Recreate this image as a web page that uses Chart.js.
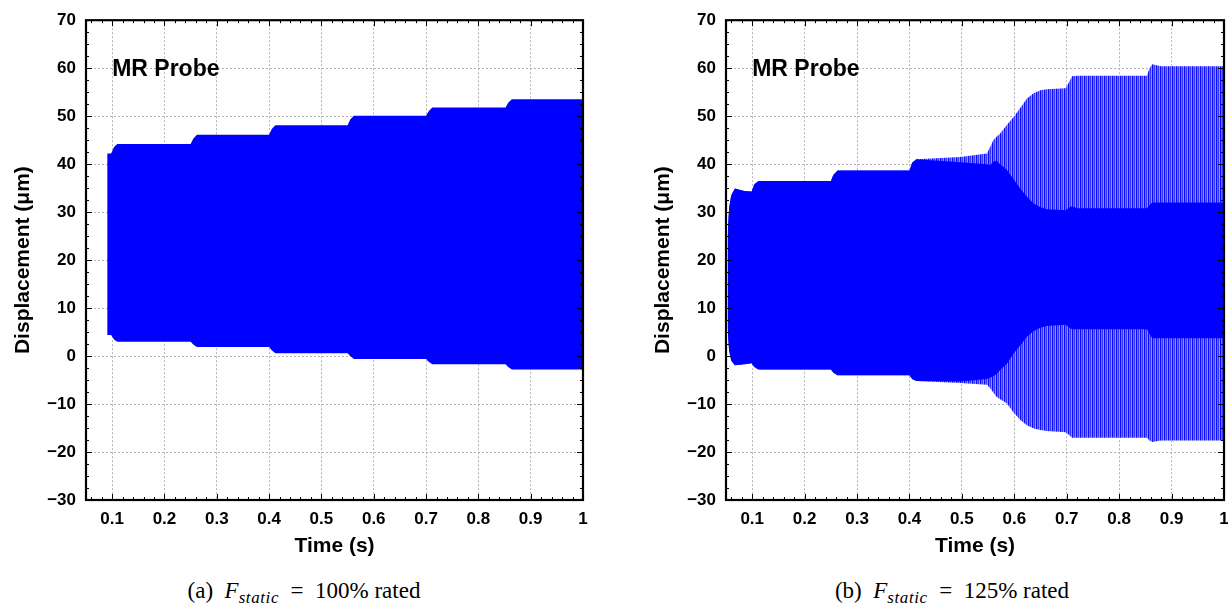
<!DOCTYPE html>
<html>
<head>
<meta charset="utf-8">
<script src="https://cdn.jsdelivr.net/npm/chart.js@4.4.1/dist/chart.umd.min.js"></script>
<style>
  html, body { margin: 0; padding: 0; background: #fff; }
  body { width: 1228px; height: 604px; position: relative; overflow: hidden; }
  canvas { position: absolute; top: 0; }
  .caption {
    position: absolute; top: 579px; width: 400px; text-align: center; white-space: nowrap;
    font-family: "Liberation Serif", serif; font-size: 23px; line-height: 24px; color: #000;
  }
  .caption sub { font-size: 17px; line-height: 0; vertical-align: -5px; letter-spacing: 0.6px; }
</style>
</head>
<body>
<canvas id="chartA" width="614" height="570" style="left:0"></canvas>
<canvas id="chartB" width="604" height="570" style="left:640px"></canvas>
<div class="caption" style="left:104px">(a)&nbsp; <i>F</i><sub><i>static</i></sub>&ensp;=&ensp;100% rated</div>
<div class="caption" style="left:752px">(b)&nbsp; <i>F</i><sub><i>static</i></sub>&ensp;=&ensp;125% rated</div>
<script>
// axis ticks
const xTickValues = [0.1, 0.2, 0.3, 0.4, 0.5, 0.6, 0.7, 0.8, 0.9, 1];
const xTickLabels = ["0.1", "0.2", "0.3", "0.4", "0.5", "0.6", "0.7", "0.8", "0.9", "1"];
const yTickValues = [-30, -20, -10, 0, 10, 20, 30, 40, 50, 60, 70];
const yTickLabels = ["−30", "−20", "−10", "0", "10", "20", "30", "40", "50", "60", "70"];

// (a) 100% rated: envelope of the probe signal
const timeA  = [0.0905, 0.098, 0.104, 0.110, 0.250, 0.255, 0.262, 0.400, 0.405, 0.412,
                0.550, 0.555, 0.562, 0.700, 0.705, 0.712, 0.852, 0.857, 0.864, 1.000];
const upperA = [42.2, 42.2, 43.6, 44.2, 44.2, 45.3, 46.1, 46.1, 47.3, 48.1,
                48.1, 49.3, 50.1, 50.1, 51.0, 51.8, 51.8, 52.8, 53.5, 53.5];
const lowerA = [4.4, 4.4, 3.4, 3.0, 3.0, 2.4, 1.9, 1.9, 1.2, 0.6,
                0.6, 0.0, -0.6, -0.6, -1.2, -1.7, -1.7, -2.3, -2.8, -2.8];

// (b) 125% rated: dense core band and outer swing band
const timeB       = [0.053, 0.056, 0.060, 0.067, 0.085, 0.099, 0.104, 0.112, 0.250, 0.255,
                     0.263, 0.400, 0.405, 0.413, 0.497, 0.548, 0.554, 0.560, 0.566, 0.573,
                     0.586, 0.599, 0.612, 0.624, 0.637, 0.650, 0.662, 0.698, 0.704, 0.710,
                     0.720, 0.853, 0.858, 0.863, 0.880, 1.000];
const coreUpperB  = [25.0, 31.0, 33.5, 34.9, 34.4, 34.3, 35.8, 36.5, 36.5, 37.8,
                     38.7, 38.7, 40.3, 41.0, 40.4, 40.0, 39.8, 40.5, 40.7, 40.0,
                     38.8, 36.8, 34.8, 33.2, 31.8, 31.0, 30.6, 30.4, 30.9, 31.2,
                     30.8, 30.8, 31.5, 32.0, 32.0, 32.0];
const coreLowerB  = [6.0, 1.0, -1.0, -1.9, -1.7, -1.5, -2.3, -2.8, -2.8, -3.5,
                     -4.0, -4.0, -4.8, -5.2, -5.3, -4.8, -4.5, -4.2, -3.8, -2.9,
                     -1.6, 0.6, 2.3, 4.0, 5.2, 5.9, 6.25, 6.5, 6.0, 5.6,
                     5.6, 5.6, 4.6, 3.7, 3.7, 3.7];
const swingUpperB = [25.0, 31.0, 33.5, 34.9, 34.4, 34.3, 35.8, 36.5, 36.5, 37.8,
                     38.7, 38.7, 40.3, 41.0, 41.5, 42.2, 43.6, 45.0, 45.7, 46.4,
                     48.2, 49.9, 51.8, 53.7, 54.8, 55.4, 55.6, 55.8, 57.0, 58.3,
                     58.4, 58.4, 60.0, 60.8, 60.4, 60.4];
const swingLowerB = [6.0, 1.0, -1.0, -1.9, -1.7, -1.5, -2.3, -2.8, -2.8, -3.5,
                     -4.0, -4.0, -4.8, -5.2, -5.6, -6.0, -6.7, -7.6, -8.5, -9.0,
                     -9.9, -11.8, -13.4, -14.4, -15.1, -15.4, -15.6, -15.9, -16.4, -17.0,
                     -17.0, -17.0, -17.6, -17.9, -17.6, -17.6];

const BLUE = "#0000ff";
const FONT = "Liberation Sans, Arial, sans-serif";
const Y_MINOR = 2.5, X_MINOR = 0.02;

const pts = (t, v) => t.map((x, i) => ({ x, y: v[i] }));

// vertical stripes for the sparse part of the oscillation
function stripes() {
  const c = document.createElement("canvas");
  c.width = 4; c.height = 1;
  const g = c.getContext("2d");
  ["#0a0aff", "#6a6aff", "#3a3aff", "#9090ff"].forEach((col, i) => {
    g.fillStyle = col; g.fillRect(i, 0, 1, 1);
  });
  return g.createPattern(c, "repeat");
}

function band(upper, lower, t, color) {
  return [
    { data: pts(t, upper), fill: "+1", backgroundColor: color, borderWidth: 0, borderColor: "transparent", pointRadius: 0 },
    { data: pts(t, lower), fill: false, borderWidth: 0, borderColor: "transparent", pointRadius: 0 }
  ];
}

// box frame, inward ticks on all sides and the panel tag
const framePlugin = {
  id: "frame",
  afterDatasetsDraw(chart, args, opts) {
    const { ctx, chartArea: a, scales: { x, y } } = chart;
    ctx.save();
    ctx.strokeStyle = "#000";
    ctx.lineWidth = 1;
    ctx.beginPath();
    for (let i = 0; ; i++) {
      const v = y.min + i * Y_MINOR;
      if (v > y.max + 1e-9) break;
      const py = Math.round(y.getPixelForValue(v)) + 0.5;
      const len = i % 4 === 0 ? 6 : 3;
      ctx.moveTo(a.left, py); ctx.lineTo(a.left + len, py);
      ctx.moveTo(a.right, py); ctx.lineTo(a.right - len, py);
    }
    for (let i = Math.ceil(x.min / X_MINOR - 1e-9); ; i++) {
      const v = i * X_MINOR;
      if (v > x.max + 1e-9) break;
      const px = Math.round(x.getPixelForValue(v)) + 0.5;
      const len = i % 5 === 0 ? 6 : 3;
      ctx.moveTo(px, a.bottom); ctx.lineTo(px, a.bottom - len);
      ctx.moveTo(px, a.top); ctx.lineTo(px, a.top + len);
    }
    ctx.stroke();
    ctx.lineWidth = 2.2;
    ctx.strokeRect(a.left, a.top, a.right - a.left, a.bottom - a.top);
    ctx.fillStyle = "#000";
    ctx.font = "bold 23px " + FONT;
    ctx.textBaseline = "middle";
    ctx.fillText(opts.tag, x.getPixelForValue(0.1), y.getPixelForValue(60) + 1);
    ctx.restore();
  }
};

function makeChart(id, datasets, padRight) {
  return new Chart(document.getElementById(id), {
    type: "line",
    data: { datasets },
    plugins: [framePlugin],
    options: {
      responsive: false,
      animation: false,
      events: [],
      devicePixelRatio: 1,
      layout: { padding: { top: 20, right: padRight, left: 0, bottom: 0 } },
      plugins: {
        legend: { display: false },
        tooltip: { enabled: false },
        frame: { tag: "MR Probe" }
      },
      scales: {
        x: {
          type: "linear",
          min: 0.05,
          max: 1,
          afterBuildTicks: s => { s.ticks = xTickValues.map(value => ({ value })); },
          afterFit: s => { s.height = 70; },
          ticks: {
            autoSkip: false, maxRotation: 0, padding: 9, color: "#000",
            font: { family: FONT, size: 17, weight: "bold" },
            callback: (v, i) => xTickLabels[i]
          },
          grid: { color: "#b4b4b4", lineWidth: 1, drawTicks: false },
          border: { display: false, dash: [2, 2] },
          title: {
            display: true, text: "Time (s)", color: "#000",
            font: { family: FONT, size: 21, weight: "bold" },
            padding: { top: 0, bottom: 11 }
          }
        },
        y: {
          min: -30,
          max: 70,
          afterBuildTicks: s => { s.ticks = yTickValues.map(value => ({ value })); },
          afterFit: s => { s.width = 86; },
          ticks: {
            padding: 10, color: "#000",
            font: { family: FONT, size: 17, weight: "bold" },
            callback: (v, i) => yTickLabels[i]
          },
          grid: { color: "#b4b4b4", lineWidth: 1, drawTicks: false },
          border: { display: false, dash: [2, 2] },
          title: {
            display: true, text: "Displacement (μm)", color: "#000",
            font: { family: FONT, size: 21, weight: "bold" },
            padding: { top: 11, bottom: 0 }
          }
        }
      }
    }
  });
}

makeChart("chartA", band(upperA, lowerA, timeA, BLUE), 31);
makeChart("chartB", [
  ...band(coreUpperB, coreLowerB, timeB, BLUE),
  ...band(swingUpperB, swingLowerB, timeB, stripes())
], 20);
</script>
</body>
</html>
